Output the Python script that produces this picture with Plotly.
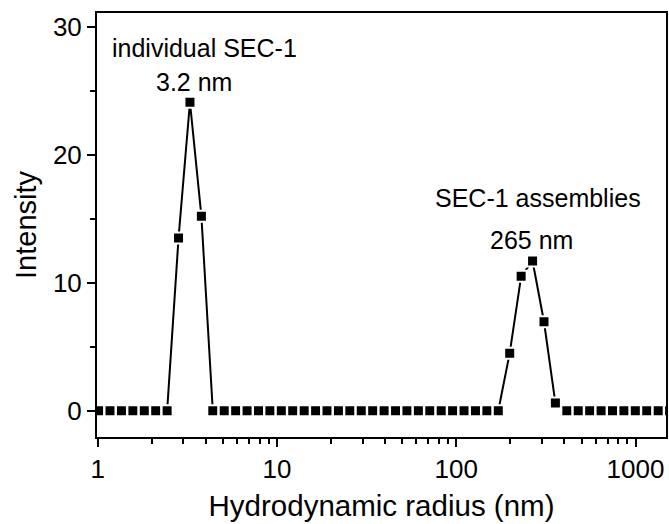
import math
import plotly.graph_objects as go

# Hydrodynamic radius bins (nm)
radius_nm = [1.012, 1.171, 1.356, 1.571, 1.819, 2.106, 2.439, 2.824, 3.270, 3.787,
             4.385, 5.078, 5.881, 6.810, 7.886, 9.131, 10.57, 12.24, 14.18, 16.42,
             19.01, 22.02, 25.49, 29.52, 34.19, 39.59, 45.84, 53.08, 61.47, 71.18,
             82.42, 95.44, 110.5, 128.0, 148.2, 171.6, 198.7, 230.1, 266.5, 308.6,
             357.3, 413.8, 479.1, 554.8, 642.5, 744.0, 861.5, 997.5, 1155, 1338, 1549]
intensity = [0, 0, 0, 0, 0, 0, 0, 13.5, 24.1, 15.2,
             0, 0, 0, 0, 0, 0, 0, 0, 0, 0,
             0, 0, 0, 0, 0, 0, 0, 0, 0, 0,
             0, 0, 0, 0, 0, 0, 4.5, 10.5, 11.7, 6.95,
             0.6, 0, 0, 0, 0, 0, 0, 0, 0, 0, 0]

x_major_ticks = [1, 10, 100, 1000]
x_major_labels = ["1", "10", "100", "1000"]
x_minor_ticks = [2, 3, 4, 5, 6, 7, 8, 9, 20, 30, 40, 50, 60, 70, 80, 90,
                 200, 300, 400, 500, 600, 700, 800, 900]

# label text, x in nm, y in intensity units
annotations_text = [
    ("individual SEC-1", 3.95, 28.35),
    ("3.2 nm", 3.45, 25.7),
    ("SEC-1 assemblies", 284, 16.6),
    ("265 nm", 262, 13.3),
]

FONT = "Arial, 'Liberation Sans', sans-serif"

fig = go.Figure()
fig.add_trace(go.Scatter(
    x=radius_nm, y=intensity, mode="lines+markers",
    line=dict(color="black", width=2),
    marker=dict(symbol="square", size=11, color="black",
                line=dict(color="white", width=2)),
    showlegend=False,
))

for text, xv, yv in annotations_text:
    fig.add_annotation(x=math.log10(xv), y=yv, xref="x", yref="y", text=text,
                       showarrow=False, font=dict(family=FONT, size=25, color="black"))

fig.update_layout(
    width=669, height=524,
    margin=dict(l=97, r=1, t=13, b=87),
    paper_bgcolor="white", plot_bgcolor="white",
    font=dict(family=FONT, color="black"),
    xaxis=dict(
        type="log", range=[-0.004, 3.17],
        showline=True, linecolor="black", linewidth=2, mirror=True,
        showgrid=False, zeroline=False,
        ticks="outside", ticklen=8, tickwidth=1.5, tickcolor="black",
        tickvals=x_major_ticks, ticktext=x_major_labels,
        tickfont=dict(size=26, family=FONT),
        minor=dict(tickvals=x_minor_ticks, ticks="outside", ticklen=5,
                   tickwidth=1.5, tickcolor="black", showgrid=False),
        title=dict(text="Hydrodynamic radius (nm)", font=dict(size=29.5, family=FONT), standoff=12),
    ),
    yaxis=dict(
        range=[-2.05, 31.07],
        showline=True, linecolor="black", linewidth=2, mirror=True,
        showgrid=False, zeroline=False,
        ticks="outside", ticklen=8, tickwidth=1.5, tickcolor="black",
        tickmode="linear", tick0=0, dtick=10,
        tickfont=dict(size=26, family=FONT),
        minor=dict(ticks="outside", ticklen=5, tickwidth=1.5, tickcolor="black",
                   dtick=5, tick0=0, showgrid=False),
        title=dict(text="Intensity", font=dict(size=29, family=FONT), standoff=8),
    ),
)

fig.write_html("out.html")
